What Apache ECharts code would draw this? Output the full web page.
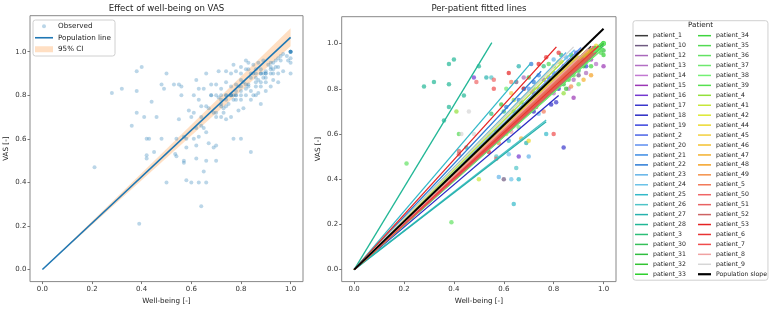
<!DOCTYPE html>
<html>
<head>
<meta charset="utf-8">
<script src="https://cdn.jsdelivr.net/npm/echarts@6/dist/echarts.min.js"></script>
<style>
  html, body { margin: 0; padding: 0; background: #fff; }
  #chart { width: 774px; height: 310px; }
</style>
</head>
<body>
<div id="chart"></div>
<script>
// patients in legend order
const patients = ['patient_1','patient_10','patient_12','patient_13','patient_14','patient_15','patient_16','patient_17','patient_18','patient_19',
  'patient_2','patient_20','patient_21','patient_22','patient_23','patient_24','patient_25','patient_26','patient_27','patient_28',
  'patient_3','patient_30','patient_31','patient_32','patient_33','patient_34','patient_35','patient_36','patient_37','patient_38',
  'patient_39','patient_4','patient_41','patient_42','patient_44','patient_45','patient_46','patient_47','patient_48','patient_49',
  'patient_5','patient_50','patient_51','patient_52','patient_53','patient_6','patient_7','patient_8','patient_9'];

const patientColors = ['#3b3b3b','#6f5a80','#a968bb','#b36fc4','#c279d2','#9b36b5','#7438d0','#3b37cc','#2a2ac4','#3944dd',
  '#4b63e6','#5d8ef0','#3c8be4','#2b7bd6','#62b3e8','#6cc3e8','#33b9c9','#4fc4c8','#27b2ae','#21b796',
  '#2dbf78','#36c05a','#30be40','#33c433','#2fd02f','#3dd43d','#52da52','#63e263','#6fe86f','#74f074',
  '#56e04f','#93e03a','#c6e63a','#dbe830','#ebd92e','#f2d03e','#f3c12f','#f3b12e','#f4a124','#f49048',
  '#f27a5a','#f06565','#e86262','#cd6363','#e52222','#e83333','#f04b4b','#f0a2a2','#d6d6d6'];

// fitted slope through the origin, and the last well-being value it is drawn to
const patientSlopes = [1.04,1.02,1.03,1.01,1.02,1.00,1.01,0.99,0.94,1.00,
  1.02,1.08,1.05,1.17,1.13,1.10,1.29,0.86,0.85,1.82,
  1.03,0.99,1.00,0.98,1.01,1.00,0.99,1.01,1.00,0.98,
  1.02,1.07,1.10,1.12,1.06,1.05,1.04,1.03,1.02,1.01,
  1.00,1.03,1.02,0.99,1.215,1.01,1.00,1.04,1.12];
const patientXmax = [0.95,0.90,0.93,0.97,0.92,1.00,0.95,0.95,0.82,0.93,
  0.96,0.91,0.90,0.75,0.85,0.884,0.705,0.77,0.77,0.552,
  0.92,1.00,1.00,1.00,1.00,1.00,0.99,1.00,0.985,1.00,
  0.97,0.88,0.84,0.83,0.92,0.90,0.93,0.95,0.96,0.97,
  0.95,0.90,0.92,0.97,0.811,0.98,0.96,0.94,0.88];

// observations per patient (same order as patients)
const obsWellbeing = [
  [0.72,0.86,0.95,0.78,0.88],[0.60,0.65,0.78,0.90,0.72],[0.68,0.93,0.88,0.80],[0.80,0.97,0.74,0.90],[0.86,0.92,0.70],
  [0.88,1.00,0.82,0.95],[0.48,0.66,0.84,0.76],[0.84,0.81,0.90,0.77],[0.72,0.79,0.65,0.82],[0.93,0.86,0.76,0.82],
  [0.89,0.78,0.96,0.86],[0.84,0.70,0.91,0.79],[0.80,0.74,0.68],[0.66,0.72,0.71,0.61],[0.70,0.58,0.80,0.85],
  [0.63,0.62,0.74],[0.66,0.64,0.77,0.62],[0.57,0.65,0.55,0.88],[0.45,0.53,0.66,0.57,0.69],
  [0.28,0.32,0.38,0.40,0.38,0.38,0.36,0.44,0.50],
  [0.55,0.60,0.76,0.83,0.64],[0.64,0.80,1.00,0.73,0.90],[0.70,0.92,1.00,0.84],[0.59,0.85,1.00,0.93],[0.67,0.87,1.00,0.78],
  [0.74,0.95,1.00,0.86],[0.42,0.78,0.99,0.70],[0.21,0.39,0.80,1.00,0.92],[0.61,0.90,0.985,0.75],[0.66,0.93,1.00,0.83],
  [0.72,0.94,0.88],[0.41,0.64,0.84],[0.50,0.76,0.82],[0.61,0.74,0.83],[0.70,0.87,0.97,0.78],
  [0.63,0.90,0.74],[0.58,0.89,0.80],[0.67,0.92,0.72],[0.535,0.95,0.76],[0.58,0.87,0.83],
  [0.63,0.76,0.92,0.86],[0.49,0.56,0.85],[0.57,0.71,0.88],[0.42,0.42,0.81,0.73],[0.62,0.74,0.68],
  [0.54,0.77,0.82,0.96],[0.80,0.62,0.56,0.69],[0.63,0.94,0.89,0.77],[0.46,0.43,0.48,0.54]
];
const obsVas = [
  [0.75,0.92,0.97,0.80,0.90],[0.40,0.83,0.80,0.86,0.78],[0.85,0.87,0.84,0.82],[0.78,0.91,0.80,0.90],[0.80,0.92,0.72],
  [0.76,0.90,0.85,0.93],[0.85,0.50,0.90,0.84],[0.54,0.74,0.91,0.80],[0.70,0.73,0.65,0.80],[0.90,0.86,0.80,0.83],
  [0.96,0.85,0.96,0.90],[0.88,0.80,0.94,0.84],[0.87,0.86,0.80],[0.75,0.83,0.91,0.72],[0.50,0.41,0.93,0.94],
  [0.40,0.51,0.69],[0.40,0.29,0.60,0.57],[0.50,0.45,0.85,0.90],[0.54,0.85,0.90,0.61,0.56],
  [0.81,0.83,0.91,0.93,0.82,0.72,0.66,0.77,0.90],
  [0.69,0.70,0.90,0.95,0.66],[0.70,0.80,1.00,0.74,0.88],[0.85,0.90,0.97,0.82],[0.73,0.80,1.00,0.92],[0.74,0.95,0.95,0.78],
  [0.75,0.90,1.00,0.84],[0.60,0.91,0.96,0.70],[0.47,0.21,0.90,1.00,0.95],[0.80,0.82,0.98,0.76],[0.63,0.95,1.00,0.84],
  [0.80,0.93,0.86],[0.70,0.75,0.78],[0.40,0.80,0.92],[0.60,0.80,0.92],[0.57,0.87,0.99,0.82],
  [0.78,0.90,0.78],[0.60,0.90,0.84],[0.58,0.84,0.76],[0.53,0.86,0.80],[0.56,0.81,0.85],
  [0.83,0.70,0.93,0.88],[0.83,0.84,0.90],[0.49,0.79,0.92],[0.525,0.51,0.86,0.72],[0.87,0.91,0.80],
  [0.52,0.94,0.96,0.98],[0.60,0.65,0.80,0.72],[0.61,0.96,0.88,0.78],[0.70,0.60,0.60,0.60]
];

// population fit and its 95% CI band
const popSlope = 1.066;
const popXmax = 1.0;
const ciWellbeing = [0, 1.0];
const ciLower = [0, 1.025];
const ciUpper = [0, 1.108];

const ticks = [0, 0.2, 0.4, 0.6, 0.8, 1.0];
const font = 'DejaVu Sans';

const chart = echarts.init(document.getElementById('chart'), null, { renderer: 'canvas' });

function xAxisFor(gridIndex) {
  return {
    type: 'value', gridIndex: gridIndex, min: -0.05, max: 1.05,
    name: 'Well-being [-]', nameLocation: 'middle', nameGap: 15,
    nameTextStyle: { fontSize: 7.2, color: '#222', fontFamily: font },
    axisLine: { show: false, onZero: false },
    axisTick: { show: true, customValues: ticks, length: 2.5, lineStyle: { color: '#777' } },
    axisLabel: { customValues: ticks, formatter: v => v.toFixed(1), fontSize: 7, color: '#333', margin: 4.5, fontFamily: font },
    splitLine: { show: false }
  };
}
function yAxisFor(gridIndex, lo, hi) {
  return {
    type: 'value', gridIndex: gridIndex, min: lo, max: hi,
    name: 'VAS [-]', nameLocation: 'middle', nameGap: 20,
    nameTextStyle: { fontSize: 7.2, color: '#222', fontFamily: font },
    axisLine: { show: false, onZero: false },
    axisTick: { show: true, customValues: ticks, length: 2.5, lineStyle: { color: '#777' } },
    axisLabel: { customValues: ticks, formatter: v => v.toFixed(1), fontSize: 7, color: '#333', margin: 3.5, fontFamily: font },
    splitLine: { show: false }
  };
}

const observedPoints = [];
const patientPoints = [];
patients.forEach((p, i) => {
  obsWellbeing[i].forEach((x, j) => {
    observedPoints.push([x, obsVas[i][j]]);
    patientPoints.push({ value: [x, obsVas[i][j]], itemStyle: { color: patientColors[i] } });
  });
});

const patientLines = patients.map((p, i) => ({
  type: 'line', name: p, xAxisIndex: 1, yAxisIndex: 1,
  data: [[0, 0], [patientXmax[i], patientSlopes[i] * patientXmax[i]]],
  symbol: 'none', silent: true, z: 3,
  lineStyle: { color: patientColors[i], width: 1.3 },
  itemStyle: { color: patientColors[i] }
}));

const titleStyle = { fontSize: 8.6, fontWeight: 'normal', color: '#222', fontFamily: font };

chart.setOption({
  animation: false,
  backgroundColor: '#fff',
  title: [
    { text: 'Effect of well-being on VAS', left: 166.5, top: 4.5, textAlign: 'center', padding: 0, textStyle: titleStyle },
    { text: 'Per-patient fitted lines', left: 479, top: 4.5, textAlign: 'center', padding: 0, textStyle: titleStyle },
    { text: 'Patient', left: 700.5, top: 21.5, textAlign: 'center', padding: 0,
      textStyle: { fontSize: 7.2, fontWeight: 'normal', color: '#222', fontFamily: font } }
  ],
  grid: [
    { left: 30, top: 15.7, width: 273, height: 267.6, show: true, borderColor: '#888', borderWidth: 1 },
    { left: 341.7, top: 16.7, width: 274.3, height: 267.6, show: true, borderColor: '#888', borderWidth: 1 }
  ],
  xAxis: [xAxisFor(0), xAxisFor(1)],
  yAxis: [yAxisFor(0, -0.0555, 1.1655), yAxisFor(1, -0.053, 1.119)],
  legend: [
    {
      left: 33, top: 20, orient: 'vertical', selectedMode: false,
      padding: [0.5, 4, 1, 2], itemGap: 0, itemWidth: 18, itemHeight: 7,
      textStyle: { fontSize: 7.2, lineHeight: 11.5, color: '#222', fontFamily: font },
      borderColor: '#d0d0d0', borderWidth: 1, borderRadius: 2.5, backgroundColor: 'rgba(255,255,255,0.8)',
      data: [
        { name: 'Observed', icon: 'path://M0,0M18,7M7,3.5a2,2 0 1 0 4,0a2,2 0 1 0 -4,0Z' },
        { name: 'Population line', icon: 'path://M0,0H18V1.6H0Z' },
        { name: '95% CI', icon: 'path://M0,0H18V6H0Z' }
      ]
    },
    {
      left: 633, top: 20.7, orient: 'vertical', selectedMode: false, height: 253,
      padding: [10, 1, 1, 2], itemGap: 0, itemWidth: 13, itemHeight: 9.94,
      icon: 'path://M0,0H13V1.5H0Z',
      textStyle: { fontSize: 6.2, lineHeight: 9.94, width: 45, color: '#222', fontFamily: font },
      borderColor: '#d0d0d0', borderWidth: 1, borderRadius: 2.5, backgroundColor: 'rgba(255,255,255,0.8)',
      data: patients.concat([{ name: 'Population slope', icon: 'path://M0,0H13V2.2H0Z' }])
    }
  ],
  series: [
    {
      type: 'scatter', name: 'Observed', xAxisIndex: 0, yAxisIndex: 0,
      data: observedPoints, symbolSize: 4,
      itemStyle: { color: '#1f77b4', opacity: 0.3 }
    },
    {
      type: 'custom', name: '95% CI', xAxisIndex: 0, yAxisIndex: 0,
      data: ciWellbeing.map((x, i) => [x, ciLower[i], ciUpper[i]]),
      itemStyle: { color: 'rgba(255,127,14,0.25)' },
      renderItem: function (params, api) {
        if (params.dataIndex !== 0) return null;
        const upper = ciWellbeing.map((x, i) => api.coord([x, ciUpper[i]]));
        const lower = ciWellbeing.map((x, i) => api.coord([x, ciLower[i]])).reverse();
        return { type: 'polygon', shape: { points: upper.concat(lower) }, style: { fill: 'rgba(255,127,14,0.25)' } };
      }
    },
    {
      type: 'line', name: 'Population line', xAxisIndex: 0, yAxisIndex: 0,
      data: [[0, 0], [popXmax, popSlope * popXmax]], symbol: 'none', z: 3,
      lineStyle: { color: '#1f77b4', width: 1.6 }, itemStyle: { color: '#1f77b4' }
    },
    {
      type: 'scatter', name: 'Observations', xAxisIndex: 1, yAxisIndex: 1,
      data: patientPoints, symbolSize: 4.5,
      itemStyle: { opacity: 0.7 }
    }
  ].concat(patientLines, [
    {
      type: 'line', name: 'Population slope', xAxisIndex: 1, yAxisIndex: 1,
      data: [[0, 0], [popXmax, popSlope * popXmax]], symbol: 'none', z: 4,
      lineStyle: { color: '#000', width: 2 }, itemStyle: { color: '#000' }
    }
  ])
});
</script>
</body>
</html>
